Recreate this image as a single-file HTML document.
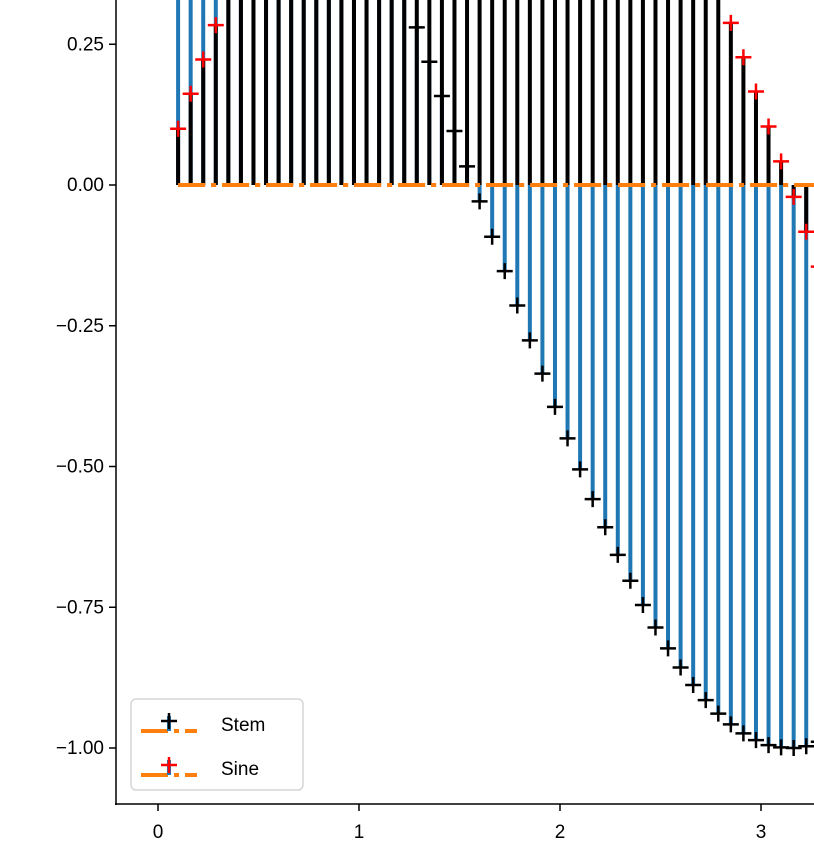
<!DOCTYPE html>
<html><head><meta charset="utf-8"><style>
body{margin:0;background:#fff}
svg{display:block;font-family:"Liberation Sans","DejaVu Sans",sans-serif}
</style></head><body>
<svg id="chart" width="814" height="860" viewBox="0 0 814 860" xmlns="http://www.w3.org/2000/svg">
<defs><clipPath id="clip"><rect x="116" y="-50" width="800" height="854"/></clipPath></defs>
<g id="plot" clip-path="url(#clip)"></g>
<g id="axes"></g>
<g>
<rect x="131" y="699" width="172" height="91" rx="5" fill="#fff" fill-opacity="0.8" stroke="#d6d6d6" stroke-width="1.5"/>
<g>
<line x1="141" y1="731" x2="197" y2="731" stroke="#ff7f0e" stroke-width="4" stroke-dasharray="27,6,5,6"/>
<line x1="169" y1="731" x2="169" y2="716" stroke="#1f77b4" stroke-width="4"/>
<path d="M161 721h16M169 713v16" stroke="#000" stroke-width="2.5"/>
<text x="221" y="731" font-size="19">Stem</text></g>
<g>
<line x1="141" y1="775" x2="197" y2="775" stroke="#ff7f0e" stroke-width="4" stroke-dasharray="27,6,5,6"/>
<line x1="169" y1="775" x2="169" y2="760" stroke="#1f77b4" stroke-width="4"/>
<path d="M161 765h16M169 757v16" stroke="#f00" stroke-width="2.5"/>
<text x="221" y="775" font-size="19">Sine</text></g>
</g>
</svg>
<script>
const xValues=[0.1,0.1625,0.225,0.2875,0.35,0.4125,0.475,0.5375,0.6,0.6625,0.725,0.7875,0.85,0.9125,0.975,1.0375,1.1,1.1625,1.225,1.2875,1.35,1.4125,1.475,1.5375,1.6,1.6625,1.725,1.7875,1.85,1.9125,1.975,2.0375,2.1,2.1625,2.225,2.2875,2.35,2.4125,2.475,2.5375,2.6,2.6625,2.725,2.7875,2.85,2.9125,2.975,3.0375,3.1,3.1625,3.225,3.2875];
const stemValues=[0.995,0.987,0.975,0.959,0.939,0.916,0.889,0.859,0.825,0.789,0.748,0.706,0.660,0.612,0.561,0.508,0.454,0.397,0.339,0.280,0.219,0.158,0.096,0.033,-0.029,-0.092,-0.153,-0.214,-0.276,-0.335,-0.394,-0.450,-0.505,-0.558,-0.608,-0.657,-0.703,-0.746,-0.786,-0.823,-0.857,-0.888,-0.915,-0.939,-0.958,-0.974,-0.986,-0.995,-0.999,-1.000,-0.997,-0.989];
const sineValues=[0.100,0.162,0.223,0.284,0.343,0.401,0.457,0.512,0.565,0.615,0.663,0.709,0.751,0.791,0.828,0.861,0.891,0.918,0.941,0.960,0.976,0.988,0.996,1.000,1.000,0.996,0.988,0.976,0.961,0.942,0.919,0.893,0.863,0.830,0.794,0.754,0.712,0.667,0.619,0.568,0.516,0.461,0.404,0.345,0.288,0.227,0.166,0.104,0.042,-0.021,-0.083,-0.145];
const xTicks=[0,1,2,3];
const yTicks=[0.25,0,-0.25,-0.5,-0.75,-1.0];
const yTickLabels=["0.25","0.00","\u22120.25","\u22120.50","\u22120.75","\u22121.00"];
const X=v=>158+201*v, Y=v=>185-563*v;
const NS="http://www.w3.org/2000/svg";
function mk(t,a,p){const e=document.createElementNS(NS,t);for(const k in a)e.setAttribute(k,a[k]);p.appendChild(e);return e;}
const plot=document.getElementById('plot'), axes=document.getElementById('axes');
function series(vals,lineCol,markCol,name){
  const g=mk('g',{},plot);
  
  
  xValues.forEach((x,i)=>{
    const l=mk('line',{x1:X(x),x2:X(x),y1:Y(0),y2:Y(vals[i]),stroke:lineCol,'stroke-width':4},g);
    
    
  });
  const b=mk('line',{x1:X(xValues[0]),x2:X(xValues[xValues.length-1]),y1:Y(0),y2:Y(0),stroke:'#ff7f0e','stroke-width':4,'stroke-dasharray':'27,6,5,6'},g);
  
  
  xValues.forEach((x,i)=>{
    const cx=X(x),cy=Y(vals[i]);
    const m=mk('path',{d:`M${cx-8} ${cy}h16M${cx} ${cy-8}v16`,stroke:markCol,'stroke-width':2.5,fill:'none'},g);
    
    
  });
}
series(stemValues,'#1f77b4','#000','stem');
series(sineValues,'#000','#f00','sine');
const ls=mk('line',{x1:116,x2:116,y1:0,y2:805,stroke:'#000','stroke-width':1.5},axes);


const bs=mk('line',{x1:115,x2:814,y1:804,y2:804,stroke:'#000','stroke-width':1.5},axes);


yTicks.forEach((v,i)=>{
  mk('line',{x1:109,x2:116,y1:Y(v),y2:Y(v),stroke:'#000','stroke-width':1.5},axes);
  const t=mk('text',{x:104,y:Y(v)+6,'text-anchor':'end','font-size':19},axes);
  t.textContent=yTickLabels[i];
  
  
});
xTicks.forEach(v=>{
  mk('line',{x1:X(v),x2:X(v),y1:804,y2:811,stroke:'#000','stroke-width':1.5},axes);
  const t=mk('text',{x:X(v),y:838,'text-anchor':'middle','font-size':19},axes);
  t.textContent=String(v);
  
  
});
</script>
</body></html>
